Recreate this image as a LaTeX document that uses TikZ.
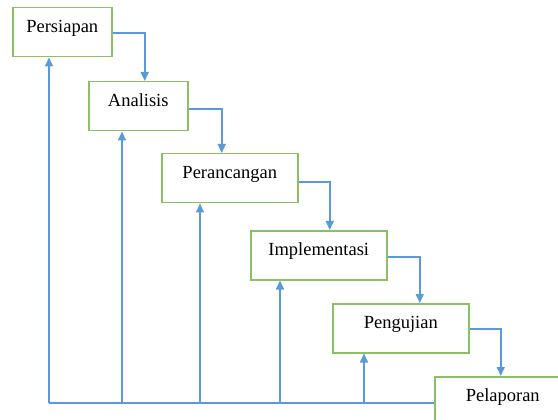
\documentclass[tikz,border=0pt]{standalone}
\usepackage{fontspec}
\setmainfont{Liberation Serif}
\newfontfamily\stagefont{Liberation Serif}
\usetikzlibrary{arrows.meta}
\definecolor{boxgreen}{RGB}{140,192,100}
\definecolor{arrowblue}{RGB}{91,155,213}
\begin{document}
\begin{tikzpicture}[x=1pt,y=-1pt,
  stage/.style={draw=boxgreen, line width=1.5pt, fill=white, inner sep=0pt,
    anchor=north west, text height=25pt, text depth=24pt,
    font=\stagefont\fontsize{18.5}{20}\selectfont},
  small/.style={stage, minimum width=99pt},
  wide/.style={stage, minimum width=136pt},
  link/.style={draw=arrowblue, line width=1.6pt},
  flow/.style={link, -{Triangle[length=9pt,width=8pt]}}]
\useasboundingbox (0,0) rectangle (558,420);
\node[small] (persiapan) at (12,7) {Persiapan};
\node[small] (analisis) at (88,81) {Analisis};
\node[wide] (perancangan) at (161,153) {Perancangan};
\node[wide] (implementasi) at (250,230) {Implementasi};
\node[wide] (pengujian) at (332,303) {Pengujian};
\node[wide] (pelaporan) at (434,376) {Pelaporan};
% forward flow
\draw[flow] ([yshift=-1pt]persiapan.east) -| ([xshift=6.5pt]analisis.north);
\draw[flow] ([yshift=-3pt]analisis.east) -| ([xshift=-8pt]perancangan.north);
\draw[flow] ([yshift=-4pt]perancangan.east) -| ([xshift=11pt]implementasi.north);
\draw[flow] ([yshift=-1.5pt]implementasi.east) -| ([xshift=19pt]pengujian.north);
\draw[flow] ([yshift=-1pt]pengujian.east) -| ([xshift=-2pt]pelaporan.north);
% feedback
\coordinate (b1) at (49,403);
\coordinate (b2) at (122,403);
\coordinate (b3) at (200,403);
\coordinate (b4) at (280,403);
\coordinate (b5) at (364,403);
\draw[link] (pelaporan.west |- b1) -- (b1);
\draw[flow] (b1) -- (persiapan.south -| b1);
\draw[flow] (b2) -- (analisis.south -| b2);
\draw[flow] (b3) -- (perancangan.south -| b3);
\draw[flow] (b4) -- (implementasi.south -| b4);
\draw[flow] (b5) -- (pengujian.south -| b5);
\end{tikzpicture}
\end{document}
